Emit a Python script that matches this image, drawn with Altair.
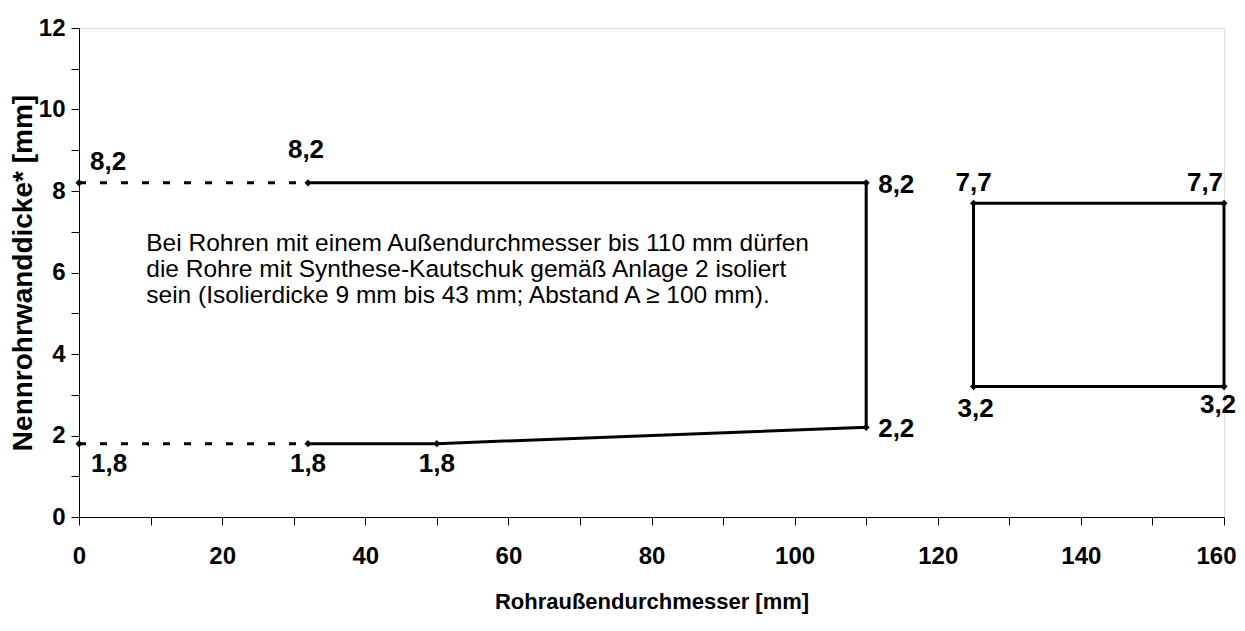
import altair as alt
import pandas as pd

# --- data ---------------------------------------------------------------
solid_x = [32, 110, 110, 50, 32]
solid_y = [8.2, 8.2, 2.2, 1.8, 1.8]
dash_top_x = [0, 32]
dash_top_y = [8.2, 8.2]
dash_bot_x = [0, 32]
dash_bot_y = [1.8, 1.8]
rect_x = [125, 160, 160, 125, 125]
rect_y = [7.7, 7.7, 3.2, 3.2, 7.7]

pt_x = [0, 32, 110, 110, 50, 32, 0, 125, 160, 160, 125]
pt_y = [8.2, 8.2, 8.2, 2.2, 1.8, 1.8, 1.8, 7.7, 7.7, 3.2, 3.2]
pt_label = ["8,2", "8,2", "8,2", "2,2", "1,8", "1,8", "1,8", "7,7", "7,7", "3,2", "3,2"]
pt_place = ["ur", "top", "right", "right", "below", "below", "br", "above", "al", "bl", "below2"]

note_x = [9.4]
note_y = [6.7]
note_text = ["Bei Rohren mit einem Außendurchmesser bis 110 mm dürfen\n"
             "die Rohre mit Synthese-Kautschuk gemäß Anlage 2 isoliert\n"
             "sein (Isolierdicke 9 mm bis 43 mm; Abstand A \u2265 100 mm)."]

x_ticks = list(range(0, 161, 10))
y_ticks = list(range(0, 13, 1))

x_title = "Rohraußendurchmesser [mm]"
y_title = "Nennrohrwanddicke* [mm]"

# --- frames ---------------------------------------------------------------
def path_df(xs, ys):
    return pd.DataFrame({"x": xs, "y": ys, "o": list(range(len(xs)))})

df_solid = path_df(solid_x, solid_y)
df_top = path_df(dash_top_x, dash_top_y)
df_bot = path_df(dash_bot_x, dash_bot_y)
df_rect = path_df(rect_x, rect_y)
df_pts = pd.DataFrame({"x": pt_x, "y": pt_y, "label": pt_label, "place": pt_place})
df_note = pd.DataFrame({"x": note_x, "y": note_y, "t": note_text})

BOLD = "Liberation Sans, Arial"
REG = "Liberation Sans, Arial"

xs = alt.Scale(domain=[0, 160], nice=False, zero=False)
ys = alt.Scale(domain=[0, 12], nice=False, zero=False)

X = alt.X("x:Q", scale=xs, axis=alt.Axis(
    title=x_title, values=x_ticks,
    labelExpr="datum.value % 20 == 0 ? datum.label : ''",
    labelAlign={"condition": {"test": "datum.value == 160", "value": "right"}, "value": "center"},
    labelOffset={"condition": {"test": "datum.value == 160", "value": 12}, "value": 0},
    grid=False, tickSize=8, tickColor="black", domainColor="black",
    labelFont=BOLD, labelFontWeight="bold", labelFontSize=24, labelColor="black",
    labelPadding=19, titleFont=BOLD, titleFontWeight="bold", titleFontSize=22,
    titleColor="black", titlePadding=23, labelFlush=False))
Y = alt.Y("y:Q", scale=ys, axis=alt.Axis(
    title=y_title, values=y_ticks,
    labelExpr="datum.value % 2 == 0 ? datum.label : ''",
    grid=False, tickSize=8, tickColor="black", domainColor="black",
    labelFont=BOLD, labelFontWeight="bold", labelFontSize=24, labelColor="black",
    labelPadding=6, titleFont=REG, titleFontWeight="bold", titleFontSize=28,
    titleColor="black", titlePadding=1, labelFlush=False))

def line(df, dash=None):
    kw = dict(color="black", strokeWidth=3)
    if dash:
        kw["strokeDash"] = dash
    return alt.Chart(df).mark_line(**kw).encode(x=X, y=Y, order="o:Q")

layers = [
    line(df_top, [7, 14]),
    line(df_bot, [7, 14]),
    line(df_solid),
    line(df_rect),
    alt.Chart(df_pts).mark_point(shape="diamond", filled=True, color="black",
                                 size=50, opacity=1).encode(x=X, y=Y),
]

places = {
    "ur": dict(align="left", dx=11, dy=-13),
    "top": dict(align="center", dx=-2, dy=-25),
    "right": dict(align="left", dx=12, dy=10),
    "below": dict(align="center", dx=0, dy=28),
    "br": dict(align="left", dx=12, dy=28),
    "above": dict(align="center", dx=0, dy=-12),
    "al": dict(align="center", dx=-19, dy=-12),
    "bl": dict(align="center", dx=-6, dy=26),
    "below2": dict(align="center", dx=2, dy=30),
}
for key, st in places.items():
    layers.append(
        alt.Chart(df_pts).transform_filter(alt.datum.place == key)
        .mark_text(font=BOLD, fontWeight="bold", fontSize=26, color="black",
                   baseline="alphabetic", **st)
        .encode(x=X, y=Y, text="label:N"))

layers.append(
    alt.Chart(df_note).mark_text(font=REG, fontSize=24.5, color="black", align="left",
                                 baseline="middle", lineBreak="\n", lineHeight=26)
    .encode(x=X, y=Y, text="t:N"))

chart = alt.layer(*layers).properties(
    width=1145, height=489,
    padding={"left": 71, "top": 20, "right": 13, "bottom": 100},
    autosize=alt.AutoSizeParams(type="none"),
).configure_view(stroke="transparent", strokeWidth=0, strokeOpacity=0).configure(background="white")

chart.save("out.html", embed_options={"renderer": "svg", "actions": False})
